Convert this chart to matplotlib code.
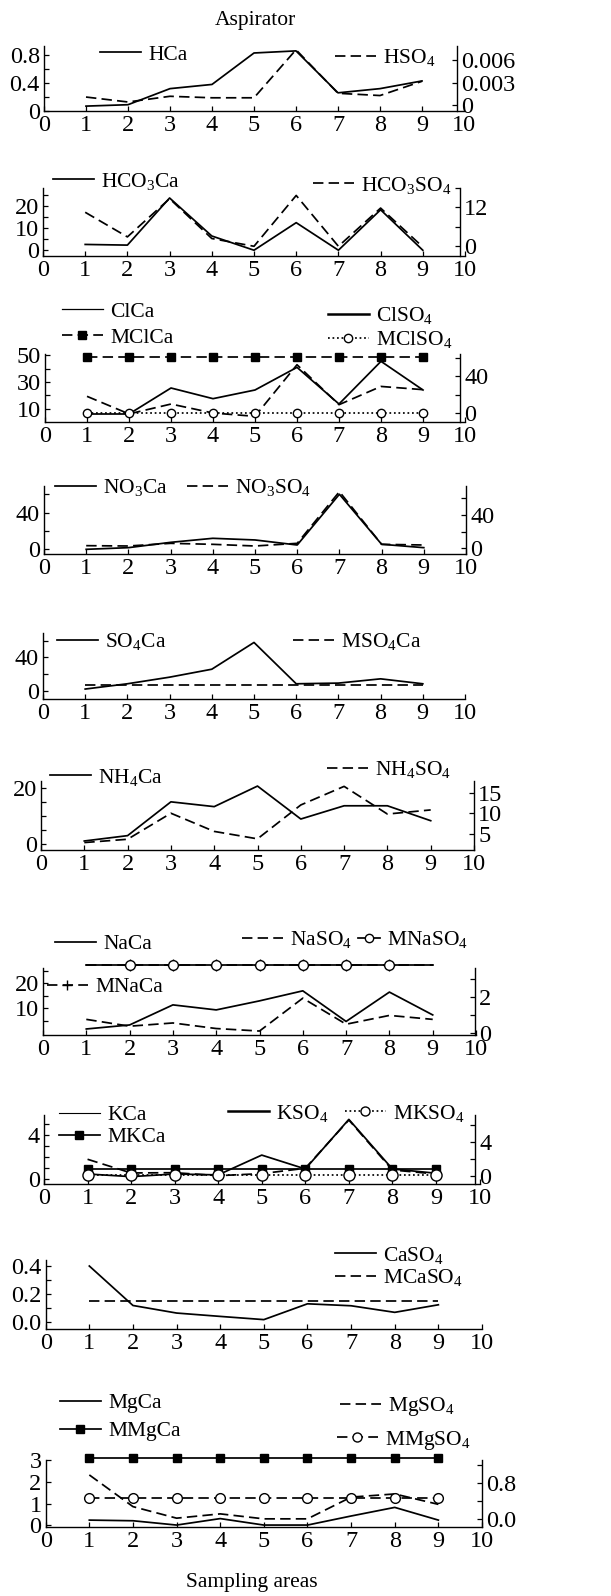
import matplotlib
matplotlib.use('Agg')
import matplotlib.pyplot as plt
from matplotlib.lines import Line2D

plt.rcParams['font.family'] = ['Liberation Serif', 'DejaVu Serif']
plt.rcParams['mathtext.fontset'] = 'custom'
plt.rcParams['mathtext.rm'] = 'Liberation Serif'
plt.rcParams['mathtext.it'] = 'Liberation Serif:italic'
plt.rcParams['mathtext.bf'] = 'Liberation Serif:bold'

# ---------------- data ----------------
areas = [1, 2, 3, 4, 5, 6, 7, 8, 9]
xticks = list(range(11))

HCa = [0.07, 0.09, 0.32, 0.38, 0.83, 0.86, 0.26, 0.32, 0.43]
HSO4 = [0.0011, 0.00044, 0.0012, 0.0010, 0.0010, 0.0074, 0.0016, 0.0013, 0.0032]

HCO3Ca = [2.6, 2.3, 23.5, 6.4, 0.0, 12.4, 0.0, 18.2, 0.0]
HCO3SO4 = [10.5, 2.9, 14.7, 2.4, 0.0, 15.7, 0.0, 11.8, -0.2]

ClCa = [6, 6, 25.5, 17.5, 24, 41, 13.5, 45.5, 24]
MClCa = [48.5] * 9
ClSO4 = [18.2, -1, 9.8, 0, -3.6, 52.7, 9.1, 29, 25.5]
MClSO4 = [0.0] * 9

NO3Ca = [0, 1.8, 7.6, 12, 10.2, 4.7, 60, 5.5, 1.8]
NO3SO4 = [3.2, 2.8, 6, 4.8, 2.8, 6, 68, 4.8, 4]

SO4Ca = [2, 8.3, 16.2, 25.7, 57.7, 8.3, 9.1, 14.2, 8.3]
MSO4Ca = [6.3] * 9

NH4Ca = [1.1, 3, 15, 13.3, 20.6, 8.9, 13.6, 13.6, 8.3]
NH4SO4 = [2.9, 3.7, 10, 5.6, 3.8, 12, 16.5, 9.8, 10.8]

NaCa = [1.7, 3.3, 11.3, 9.3, 12.9, 16.9, 4.7, 16.4, 7.3]
MNaCa = [27.1] * 9
NaSO4 = [0.78, 0.4, 0.58, 0.27, 0.13, 1.96, 0.51, 1.0, 0.78]
MNaSO4 = [3.80] * 9

KCa = [0.48, 0.24, 0.48, 0.4, 2.2, 0.94, 5.45, 0.94, 0.55]
MKCa = [0.91] * 9
KSO4 = [1.93, 0.32, 0.35, 0.0, 0.24, 0.87, 6.55, 0.67, 0.2]
MKSO4 = [0.08] * 9

CaSO4 = [0.40, 0.118, 0.064, 0.04, 0.017, 0.13, 0.116, 0.069, 0.123]
MCaSO4 = [0.147] * 9

MgCa = [0.23, 0.2, 0.0, 0.3, 0.0, 0.0, 0.42, 0.82, 0.23]
MMgCa = [3.13] * 9
MgSO4 = [0.97, 0.27, 0.015, 0.11, 0.0, 0.0, 0.48, 0.55, 0.32]
MMgSO4 = [0.46] * 9

# ---------------- layout helpers ----------------
W, H = 611, 1596
fig = plt.figure(figsize=(W / 100, H / 100), dpi=100)

LW = 1.25
DASH = (0, (6, 3))
DOT = (0, (1, 1.6))
TFS = 17.5
LFS = 15.5


def make_axes(x0, x10, ytop, ybot, ylim, yticks, ylabels):
    ax = fig.add_axes([x0 / W, 1 - ybot / H, (x10 - x0) / W, (ybot - ytop) / H])
    ax.set_xlim(0, 10)
    ax.set_xticks(xticks)
    ax.set_xticklabels([str(v) for v in xticks])
    ax.set_ylim(*ylim)
    ax.set_yticks(yticks)
    ax.set_yticklabels(ylabels)
    ax.spines['top'].set_visible(False)
    ax.spines['right'].set_visible(False)
    for s in ('left', 'bottom'):
        ax.spines[s].set_linewidth(1.0)
    ax.tick_params(direction='in', length=3.5, width=0.9, labelsize=TFS, pad=3)
    ax.patch.set_alpha(0)
    return ax


def make_twin(ax, xpos, ylim, yticks, ylabels):
    tw = ax.twinx()
    for s in ('top', 'left', 'bottom'):
        tw.spines[s].set_visible(False)
    tw.spines['right'].set_position(('data', xpos))
    tw.spines['right'].set_linewidth(1.0)
    tw.set_ylim(*ylim)
    tw.set_yticks(yticks)
    tw.set_yticklabels(ylabels)
    tw.tick_params(direction='in', length=3.5, width=0.9, labelsize=TFS, pad=3)
    tw.patch.set_alpha(0)
    return tw


def key(xp, yp, label, hl=1.9, **kw):
    h = Line2D([], [], color='k', **kw)
    fig.legend(handles=[h], labels=[label], loc='center left',
               bbox_to_anchor=(xp / W, 1 - yp / H), frameon=False,
               borderpad=0, borderaxespad=0, handlelength=hl,
               handletextpad=0.35, fontsize=LFS)


fig.text(255 / W, 1 - 20 / H, 'Aspirator', ha='center', va='center', fontsize=LFS)
fig.text(252 / W, 1 - 1583 / H, 'Sampling areas', ha='center', va='center', fontsize=LFS)

# ---------------- panel 1 ----------------
ax = make_axes(44, 464, 46, 111, (0, 0.93), [0, 0.2, 0.4, 0.6, 0.8], ['0', '', '0.4', '', '0.8'])
tw = make_twin(ax, 9.84, (-0.00076, 0.0079), [0, 0.003, 0.006], ['0', '0.003', '0.006'])
ax.plot(areas, HCa, color='k', lw=LW)
tw.plot(areas, HSO4, color='k', lw=LW, ls=DASH)
key(100, 55, 'HCa', lw=LW)
key(335, 58, 'HSO$_4$', lw=LW, ls=DASH)

# ---------------- panel 2 ----------------
ax = make_axes(43, 465, 188, 256, (-2.6, 28.0), [0, 5, 10, 15, 20, 25], ['0', '', '10', '', '20', ''])
tw = make_twin(ax, 9.88, (-3.0, 18.0), [0, 6, 12, 18], ['0', '', '12', ''])
ax.plot(areas, HCO3Ca, color='k', lw=LW)
tw.plot(areas, HCO3SO4, color='k', lw=LW, ls=DASH)
key(53, 181, 'HCO$_3$Ca', lw=LW)
key(313, 185, 'HCO$_3$SO$_4$', lw=LW, ls=DASH)

# ---------------- panel 3 ----------------
ax = make_axes(45, 465, 354, 422, (0, 51), [10, 20, 30, 40, 50], ['10', '', '30', '', '50'])
tw = make_twin(ax, 9.89, (-9.8, 64.4), [0, 20, 40, 60], ['0', '', '40', ''])
ax.plot(areas, ClCa, color='k', lw=LW)
ax.plot(areas, MClCa, color='k', lw=LW, ls=DASH, marker='s', ms=5.5, mfc='k', clip_on=False)
tw.plot(areas, ClSO4, color='k', lw=LW, ls=DASH)
tw.plot(areas, MClSO4, color='k', lw=LW, ls=DOT, marker='o', ms=6, mfc='white', mec='k', mew=1.0, clip_on=False, zorder=3)
key(62, 312, 'ClCa', lw=0.9)
key(62, 338, 'MClCa', lw=LW, ls=DASH, marker='s', ms=5.5, mfc='k')
key(328, 316, 'ClSO$_4$', lw=1.8)
key(328, 340, 'MClSO$_4$', lw=LW, ls=DOT, marker='o', ms=6, mfc='white', mec='k')

# ---------------- panel 4 ----------------
ax = make_axes(44, 466, 486, 554, (-5.1, 69), [0, 20, 40, 60], ['0', '', '40', ''])
tw = make_twin(ax, 10, (-6.8, 74.8), [0, 20, 40, 60], ['0', '', '40', ''])
ax.plot(areas, NO3Ca, color='k', lw=LW)
tw.plot(areas, NO3SO4, color='k', lw=LW, ls=DASH)
key(55, 488, 'NO$_3$Ca', lw=LW)
key(187, 488, 'NO$_3$SO$_4$', lw=LW, ls=DASH)

# ---------------- panel 5 ----------------
ax = make_axes(43, 465, 633, 699, (-9.9, 69), [0, 20, 40, 60], ['0', '', '40', ''])
ax.plot(areas, SO4Ca, color='k', lw=LW)
ax.plot(areas, MSO4Ca, color='k', lw=LW, ls=DASH)
key(57, 642, 'SO$_4$Ca', lw=LW)
key(293, 642, 'MSO$_4$Ca', lw=LW, ls=DASH)

# ---------------- panel 6 ----------------
ax = make_axes(41, 474, 781, 850, (-2.1, 22.4), [0, 5, 10, 15, 20], ['0', '', '', '', '20'])
tw = make_twin(ax, 10, (1.1, 17.8), [5, 10, 15], ['5', '10', '15'])
ax.plot(areas, NH4Ca, color='k', lw=LW)
tw.plot(areas, NH4SO4, color='k', lw=LW, ls=DASH)
key(50, 777, 'NH$_4$Ca', lw=LW)
key(327, 770, 'NH$_4$SO$_4$', lw=LW, ls=DASH)

# ---------------- panel 7 ----------------
ax = make_axes(43, 476, 968, 1035, (-0.7, 26), [5, 10, 15, 20, 25], ['', '10', '', '20', ''])
tw = make_twin(ax, 9.98, (-0.09, 3.64), [0, 1, 2, 3], ['0', '', '2', ''])
ax.plot(areas, NaCa, color='k', lw=LW)
ax.plot(areas, MNaCa, color='k', lw=LW, ls=DASH, marker='+', ms=8, mew=1.0,
        markevery=list(range(1, 8)), clip_on=False, zorder=4)
tw.plot(areas, NaSO4, color='k', lw=LW, ls=DASH)
tw.plot(areas, MNaSO4, color='k', lw=LW, marker='o', ms=7, mfc='white', mec='k', mew=1.0,
        markevery=list(range(1, 8)), clip_on=False, zorder=3)
key(55, 944, 'NaCa', lw=LW)
key(242, 940, 'NaSO$_4$', lw=LW, ls=DASH)
key(358, 940, 'MNaSO$_4$', hl=1.0, lw=LW, marker='o', ms=6, mfc='white', mec='k')
key(47, 987, 'MNaCa', lw=LW, ls=DASH, marker='+', ms=7)

# ---------------- panel 8 ----------------
ax = make_axes(44, 479.5, 1115, 1184, (-0.43, 5.85), [0, 1, 2, 3, 4, 5], ['0', '', '', '', '4', ''])
tw = make_twin(ax, 9.9, (-0.98, 7.14), [0, 2, 4, 6], ['0', '', '4', ''])
ax.plot(areas, KCa, color='k', lw=LW)
ax.plot(areas, MKCa, color='k', lw=LW, marker='s', ms=5.5, mfc='k', clip_on=False)
tw.plot(areas, KSO4, color='k', lw=LW, ls=DASH)
tw.plot(areas, MKSO4, color='k', lw=LW, ls=DOT, marker='o', ms=8, mfc='white', mec='k', mew=1.0, clip_on=False, zorder=3)
key(59, 1115, 'KCa', lw=0.8)
key(59, 1137, 'MKCa', lw=LW, marker='s', ms=5.5, mfc='k')
key(228, 1113, 'KSO$_4$', lw=1.8)
key(345, 1113, 'MKSO$_4$', lw=LW, ls=DOT, marker='o', ms=6.5, mfc='white', mec='k')

# ---------------- panel 9 ----------------
ax = make_axes(45.7, 482, 1260, 1329, (-0.05, 0.443), [0, 0.1, 0.2, 0.3, 0.4], ['0.0', '', '0.2', '', '0.4'])
ax.plot(areas, CaSO4, color='k', lw=LW)
ax.plot(areas, MCaSO4, color='k', lw=LW, ls=DASH)
key(335, 1255, 'CaSO$_4$', lw=LW)
key(335, 1278, 'MCaSO$_4$', lw=LW, ls=DASH)

# ---------------- panel 10 ----------------
ax = make_axes(45.7, 482, 1460, 1527, (-0.09, 3.02), [0, 1, 2, 3], ['0', '1', '2', '3'])
tw = make_twin(ax, 10, (-0.18, 1.30), [0, 0.4, 0.8, 1.2], ['0.0', '', '0.8', ''])
ax.plot(areas, MgCa, color='k', lw=LW)
ax.plot(areas, MMgCa, color='k', lw=LW, marker='s', ms=5.5, mfc='k', clip_on=False)
tw.plot(areas, MgSO4, color='k', lw=LW, ls=DASH)
tw.plot(areas, MMgSO4, color='k', lw=LW, ls=DASH, marker='o', ms=7, mfc='white', mec='k', mew=1.0, clip_on=False, zorder=3)
key(60, 1403, 'MgCa', lw=LW)
key(60, 1431, 'MMgCa', lw=LW, marker='s', ms=5.5, mfc='k')
key(340, 1407, 'MgSO$_4$', lw=LW, ls=DASH)
key(337, 1440, 'MMgSO$_4$', lw=LW, ls=DASH, marker='o', ms=6.5, mfc='white', mec='k')

fig.savefig('out.png', dpi=100)
